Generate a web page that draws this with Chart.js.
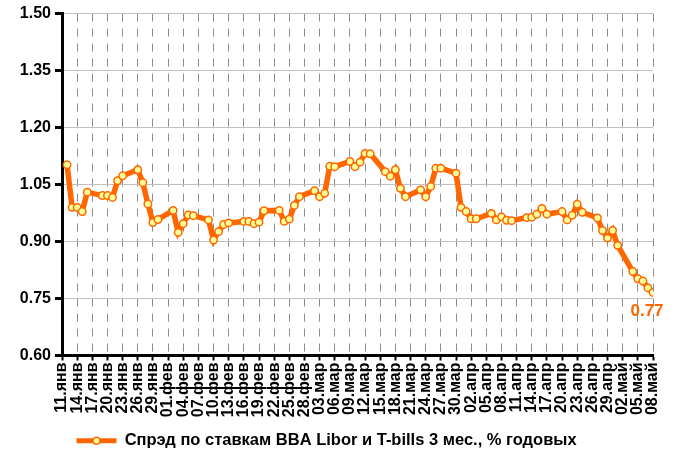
<!DOCTYPE html>
<html><head><meta charset="utf-8">
<script src="https://cdn.jsdelivr.net/npm/chart.js@4/dist/chart.umd.min.js"></script>
<style>html,body{margin:0;padding:0;background:#fff}#wrap{width:684px;height:459px}</style>
</head><body><div id="wrap"><canvas id="c" width="684" height="459"></canvas></div>
<script>
// Axis tick labels (every 3 days, 2010)
const tickLabels = ["11.янв","14.янв","17.янв","20.янв","23.янв","26.янв","29.янв",
  "01.фев","04.фев","07.фев","10.фев","13.фев","16.фев","19.фев","22.фев","25.фев","28.фев",
  "03.мар","06.мар","09.мар","12.мар","15.мар","18.мар","21.мар","24.мар","27.мар","30.мар",
  "02.апр","05.апр","08.апр","11.апр","14.апр","17.апр","20.апр","23.апр","26.апр","29.апр",
  "02.май","05.май","08.май"];
const yTicks = [0.60, 0.75, 0.90, 1.05, 1.20, 1.35, 1.50];

// Observation dates (DD.MM, 2010)
const dates = [
  "12.01","13.01","14.01","15.01","16.01",
  "19.01","20.01","21.01","22.01","23.01",
  "26.01","27.01","28.01","29.01","30.01",
  "02.02","03.02","04.02","05.02","06.02",
  "09.02","10.02","11.02","12.02","13.02",
  "16.02","17.02","18.02","19.02","20.02",
  "23.02","24.02","25.02","26.02","27.02",
  "02.03","03.03","04.03","05.03","06.03",
  "09.03","10.03","11.03","12.03","13.03",
  "16.03","17.03","18.03","19.03","20.03",
  "23.03","24.03","25.03","26.03","27.03",
  "30.03","31.03","01.04","02.04","03.04",
  "06.04","07.04","08.04","09.04","10.04",
  "13.04","14.04","15.04","16.04","17.04",
  "20.04","21.04","22.04","23.04","24.04",
  "27.04","28.04","29.04","30.04","01.05",
  "04.05","05.05","06.05","07.05","08.05"];
// Spread values, % p.a.
const spread = [
  1.102,0.990,0.990,0.979,1.030,
  1.021,1.021,1.016,1.060,1.073,
  1.089,1.055,0.999,0.950,0.958,
  0.982,0.924,0.947,0.970,0.968,
  0.957,0.904,0.926,0.945,0.949,
  0.953,0.953,0.947,0.951,0.981,
  0.982,0.953,0.959,0.995,1.018,
  1.034,1.018,1.027,1.098,1.097,
  1.111,1.097,1.109,1.132,1.131,
  1.084,1.072,1.089,1.040,1.018,
  1.036,1.018,1.045,1.093,1.093,
  1.080,0.990,0.979,0.960,0.960,
  0.974,0.957,0.965,0.956,0.955,
  0.963,0.964,0.972,0.987,0.972,
  0.979,0.957,0.969,0.998,0.977,
  0.962,0.929,0.909,0.929,0.890,
  0.821,0.802,0.796,0.778,0.766];
const seriesName = "Спрэд по ставкам BBA Libor и T-bills 3 мес., % годовых";
const lastValueLabel = "0.77";

const ORANGE = '#FF6600';
const MARKER_FILL = '#FFFF99';
const FONT = "'Liberation Sans', Arial, sans-serif";

const startDate = new Date(2010, 0, 11);
function dayIndex(s) {
  const [d, m] = s.split('.').map(Number);
  return Math.round((new Date(2010, m - 1, d) - startDate) / 864e5);
}
const points = dates.map((d, i) => ({ x: dayIndex(d), y: spread[i] }));
const xMax = (tickLabels.length - 1) * 3;

const extras = {
  id: 'extras',
  afterDatasetsDraw(chart) {
    const meta = chart.getDatasetMeta(0);
    const last = meta.data[meta.data.length - 1];
    const ctx = chart.ctx;
    ctx.save();
    ctx.fillStyle = ORANGE;
    ctx.font = "bold 17px " + FONT;
    ctx.textAlign = 'center';
    ctx.textBaseline = 'middle';
    ctx.fillText(lastValueLabel, last.x - 6, last.y + 19);
    ctx.restore();
  },
  afterDraw(chart) {
    const lg = chart.legend;
    if (!lg || !lg.legendHitBoxes || !lg.legendHitBoxes.length) return;
    const hb = lg.legendHitBoxes[0];
    const bw = lg.options.labels.boxWidth;
    const cx = hb.left + bw / 2, cy = hb.top + hb.height / 2;
    const ctx = chart.ctx;
    ctx.save();
    ctx.beginPath();
    ctx.arc(cx, cy, 3.5, 0, Math.PI * 2);
    ctx.fillStyle = MARKER_FILL;
    ctx.fill();
    ctx.lineWidth = 1.5;
    ctx.strokeStyle = ORANGE;
    ctx.stroke();
    ctx.restore();
  }
};

new Chart(document.getElementById('c'), {
  type: 'line',
  data: {
    datasets: [{
      label: seriesName,
      data: points,
      borderColor: ORANGE,
      backgroundColor: ORANGE,
      borderWidth: 5.5,
      tension: 0,
      pointRadius: 3.7,
      pointBackgroundColor: MARKER_FILL,
      pointBorderColor: ORANGE,
      pointBorderWidth: 1.5
    }]
  },
  options: {
    responsive: false,
    animation: false,
    devicePixelRatio: 1,
    layout: { padding: { left: 0, right: 31, top: 12, bottom: 0 } },
    plugins: {
      tooltip: { enabled: false },
      legend: {
        position: 'bottom',
        labels: {
          boxWidth: 40,
          boxHeight: 5,
          padding: 8,
          color: '#000',
          font: { family: FONT, size: 16.5, weight: 'bold' },
          generateLabels(chart) {
            return [{
              text: seriesName, fillStyle: ORANGE, strokeStyle: ORANGE,
              lineWidth: 0, datasetIndex: 0, hidden: false
            }];
          }
        }
      }
    },
    scales: {
      x: {
        type: 'linear',
        min: 0,
        max: xMax,
        afterBuildTicks(scale) {
          scale.ticks = tickLabels.map((_, i) => ({ value: i * 3 }));
        },
        afterFit(scale) { scale.height = 69; },
        ticks: {
          autoSkip: false,
          minRotation: 90,
          maxRotation: 90,
          padding: 2,
          color: '#000',
          font: { family: FONT, size: 16, weight: 'bold' },
          callback: (v) => tickLabels[Math.round(v / 3)]
        },
        grid: {
          color: '#8c8c8c',
          lineWidth: 1,
          tickColor: '#000',
          tickWidth: 2,
          tickLength: 5
        },
        border: { color: '#000', width: 3, dash: [8, 7] }
      },
      y: {
        min: 0.6,
        max: 1.5,
        afterBuildTicks(scale) {
          scale.ticks = yTicks.map(v => ({ value: v }));
        },
        afterFit(scale) { scale.width = 62; },
        ticks: {
          padding: 4,
          color: '#000',
          font: { family: FONT, size: 16, weight: 'bold' },
          callback: (v) => Number(v).toFixed(2)
        },
        grid: {
          color: '#c0c0c0',
          lineWidth: 1,
          tickColor: '#000',
          tickWidth: 3,
          tickLength: 7
        },
        border: { color: '#000', width: 3 }
      }
    }
  },
  plugins: [extras]
});
</script>
</body></html>
